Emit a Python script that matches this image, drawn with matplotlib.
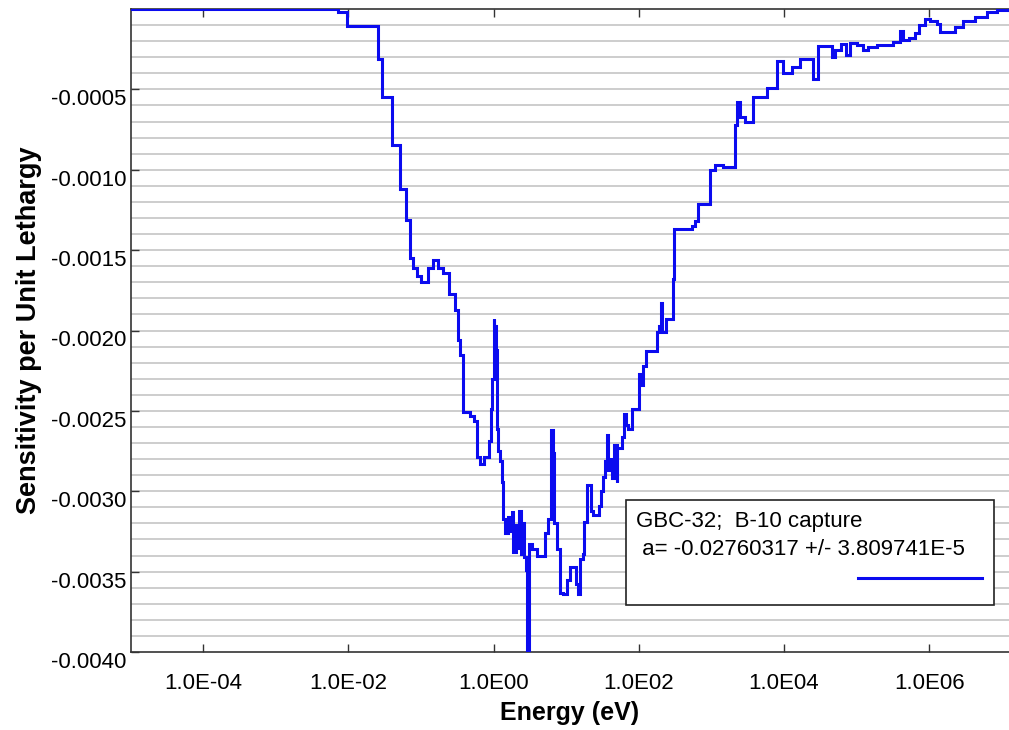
import matplotlib
matplotlib.use("Agg")
import matplotlib.pyplot as plt
from matplotlib.lines import Line2D
from matplotlib.patches import Rectangle
import numpy as np

plt.rcParams['font.family'] = ['Liberation Sans', 'DejaVu Sans']

# group lower bounds (log10 of energy in eV) and sensitivity per unit lethargy (x1e-4)
log_e_lo = [-5.0, -2.14, -2.018, -1.585, -1.530, -1.392, -1.287, -1.209, -1.149, -1.103,
            -1.048, -1.002, -0.901, -0.828, -0.759, -0.690, -0.607, -0.534, -0.488, -0.461,
            -0.415, -0.322, -0.267, -0.221, -0.184, -0.129, -0.065, -0.038, -0.015, 0.000,
            0.013, 0.031, 0.045, 0.068, 0.091, 0.114, 0.137, 0.160, 0.206, 0.229,
            0.252, 0.275, 0.312, 0.344, 0.357, 0.376, 0.403, 0.426, 0.449, 0.467,
            0.490, 0.527, 0.596, 0.711, 0.757, 0.790, 0.813, 0.836, 0.880, 0.910,
            0.963, 1.009, 1.055, 1.138, 1.161, 1.193, 1.230, 1.253, 1.285, 1.340,
            1.377, 1.455, 1.482, 1.514, 1.538, 1.560, 1.574, 1.606, 1.629, 1.661,
            1.698, 1.707, 1.767, 1.799, 1.826, 1.859, 1.905, 2.010, 2.028, 2.065,
            2.102, 2.258, 2.286, 2.304, 2.322, 2.378, 2.469, 2.492, 2.731, 2.777,
            2.823, 2.975, 3.052, 3.167, 3.330, 3.350, 3.400, 3.460, 3.570, 3.765,
            3.902, 3.985, 4.109, 4.224, 4.398, 4.476, 4.659, 4.705, 4.783, 4.857,
            4.912, 5.003, 5.095, 5.164, 5.279, 5.508, 5.600, 5.637, 5.729, 5.807,
            5.867, 5.945, 6.014, 6.106, 6.152, 6.359, 6.473, 6.634, 6.794, 6.932]
log_e_top = 7.3

sens_e4 = [0.0, -0.2, -1.07, -3.12, -5.45, -8.49, -11.2, -13.1, -15.5, -16.1,
           -16.6, -17.0, -16.1, -15.6, -16.1, -16.4, -17.7, -18.7, -20.6, -21.5,
           -25.1, -25.3, -25.6, -27.9, -28.3, -27.9, -26.9, -24.9, -23.0, -19.3,
           -19.7, -21.2, -26.1, -27.5, -28.1, -29.4, -31.7, -32.6, -31.6, -32.5,
           -31.3, -33.8, -32.1, -33.5, -31.2, -33.9, -32.0, -34.1, -34.9, -41.0,
           -33.3, -33.6, -34.0, -32.6, -31.7, -26.2, -27.6, -32.0, -33.6, -36.3,
           -36.4, -35.5, -34.7, -35.8, -36.4, -34.2, -33.9, -31.9, -29.6, -31.2,
           -31.5, -30.9, -30.0, -29.1, -28.1, -26.5, -28.7, -28.0, -29.2, -27.1,
           -29.4, -27.3, -26.6, -25.2, -25.9, -26.1, -24.9, -22.7, -23.4, -22.2,
           -21.3, -20.1, -19.7, -18.3, -20.1, -19.3, -16.8, -13.7, -13.5, -13.2,
           -12.1, -10.0, -9.7, -9.8, -7.24, -5.8, -6.7, -7.0, -5.5, -4.9,
           -3.25, -3.98, -3.61, -3.09, -4.38, -2.33, -3.0, -2.53, -2.16, -2.89,
           -2.12, -2.27, -2.53, -2.37, -2.27, -2.06, -1.37, -1.95, -1.79, -1.50,
           -1.02, -0.61, -0.75, -0.92, -1.43, -1.12, -0.75, -0.50, -0.19, -0.05]

xtick_vals = [1e-4, 1e-2, 1e0, 1e2, 1e4, 1e6]
xtick_labels = ['1.0E-04', '1.0E-02', '1.0E00', '1.0E02', '1.0E04', '1.0E06']
ytick_vals = [-0.0040, -0.0035, -0.0030, -0.0025, -0.0020, -0.0015, -0.0010, -0.0005]

legend_line1 = 'GBC-32;  B-10 capture'
legend_line2 = ' a= -0.02760317 +/- 3.809741E-5'

edges = 10.0 ** np.array(log_e_lo + [log_e_top])
sens = np.array(sens_e4) * 1e-4

fig = plt.figure(figsize=(10.09, 7.30), dpi=100)
ax = fig.add_axes([131 / 1009, 78 / 730, 878 / 1009, 643 / 730])

ax.stairs(sens, edges, baseline=None, color='#0b0bef', linewidth=2.2, zorder=3)

ax.set_xscale('log')
ax.set_xlim(10 ** -4.993, 10 ** 7.10)
ax.set_ylim(-0.0040, 0.0)

ax.set_xticks(xtick_vals)
ax.set_xticklabels(xtick_labels)
ax.xaxis.set_minor_locator(matplotlib.ticker.NullLocator())
ax.set_yticks(ytick_vals)
ax.set_yticklabels(['%.4f' % v for v in ytick_vals])
for lab in ax.get_yticklabels():
    lab.set_verticalalignment('top')

# light horizontal grid every 0.0001
for g in np.arange(-0.0039, 0.0, 0.0001):
    ax.axhline(g, color='#c9c9c9', linewidth=1.3, zorder=1)

ax.tick_params(axis='x', which='major', direction='in', length=6, width=1,
               top=True, labelsize=16, pad=15, color='#333333')
ax.tick_params(axis='y', which='major', direction='in', length=6, width=1,
               labelsize=16, pad=3, color='#333333')

for s in ['left', 'bottom', 'top']:
    ax.spines[s].set_color('#333333')
    ax.spines[s].set_linewidth(1.2)
ax.spines['right'].set_visible(False)

ax.set_xlabel('Energy (eV)', fontsize=18, fontweight='bold', labelpad=5)
ax.set_ylabel('Sensitivity per Unit Lethargy', fontsize=19.5, fontweight='bold', labelpad=7)

# legend box
ax.add_patch(Rectangle((0.564, 0.0731), 0.419, 0.1633, transform=ax.transAxes,
                       facecolor='white', edgecolor='#222222', linewidth=1.2, zorder=5))
ax.text(0.575, 0.2037, legend_line1, transform=ax.transAxes, fontsize=16,
        va='center', ha='left', zorder=6)
ax.text(0.575, 0.160, legend_line2, transform=ax.transAxes, fontsize=16,
        va='center', ha='left', zorder=6)
ax.add_line(Line2D([0.828, 0.969], [0.115, 0.115], transform=ax.transAxes,
                   color='#0b0bef', linewidth=2.2, zorder=6))

fig.savefig('out.png', dpi=100)
